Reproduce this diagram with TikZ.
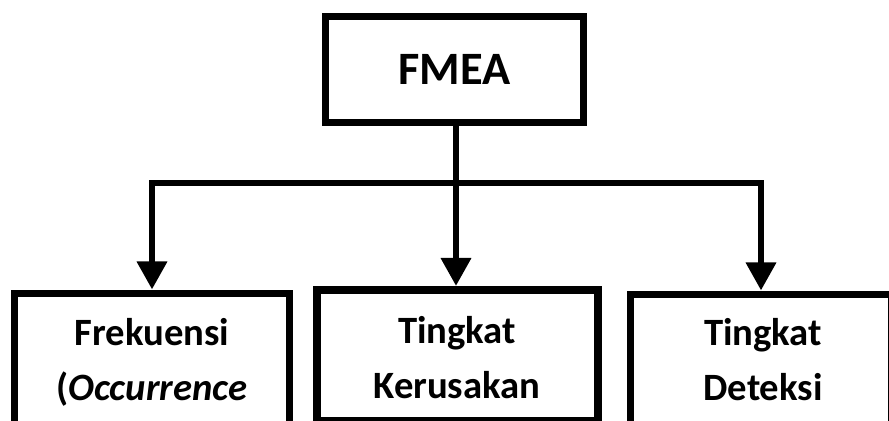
\documentclass[tikz,border=0pt]{standalone}
\usepackage{fontspec}
\setmainfont{Carlito}
\usepackage{tikz}
\usetikzlibrary{arrows.meta,positioning}
\tikzstyle{mainbox} = [draw, line width=5pt, minimum width=6.45cm, minimum height=2.65cm, anchor=north, font=\fontsize{33}{40}\selectfont\bfseries]
\tikzstyle{subbox} = [draw, line width=5pt, minimum height=4cm, anchor=north]
\tikzstyle{sublabel} = [align=center, anchor=base, font=\fontsize{27.5}{39}\selectfont\bfseries]
\tikzstyle{line} = [line width=4.6pt]
\tikzstyle{arrow} = [line width=4.6pt, -{Triangle[width=0.725cm,length=0.7cm]}]

\begin{document}
\begin{tikzpicture}[x=0.025cm, y=-0.025cm]
\useasboundingbox (0,0) rectangle (889,421);
% top box
\node[mainbox] (fmea) at (454.5,12.5) {FMEA};

% lower boxes
\node[subbox, minimum width=6.875cm] (freq) at (152,289.5) {};
\node[subbox, minimum width=7.025cm, minimum height=3.275cm, line width=5.7pt] (sev) at (457.5,286) {};
\node[subbox, minimum width=6.525cm] (det) at (761,290.5) {};

% texts inside (base = last line)
\node[sublabel] (freqtxt) at (152,400) {Frekuensi\\(\textit{Occurrence}};
\node[sublabel] (sevtxt) at (457,398) {Tingkat\\Kerusakan};
\node[sublabel] (dettxt) at (763,400) {Tingkat\\Deteksi};

% connectors
\coordinate (split) at (456,183);
\draw[line] (fmea.south -| split) -- (split);
\draw[arrow] (split) -| (freq.north);
\draw[arrow] (split) -- (split |- sev.north);
\draw[arrow] (split) -| (det.north);
\end{tikzpicture}
\end{document}
